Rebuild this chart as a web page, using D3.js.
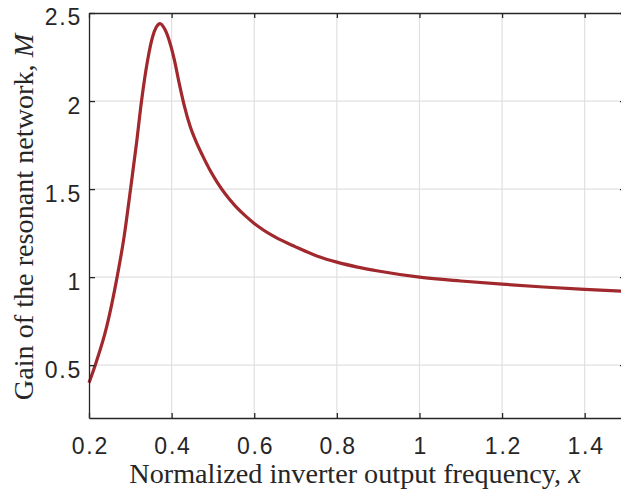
<!DOCTYPE html>
<html>
<head>
<meta charset="utf-8">
<script src="https://cdn.jsdelivr.net/npm/d3@7"></script>
<style>
  body { margin: 0; background: #fff; }
  svg { display: block; overflow: hidden; }
</style>
</head>
<body>
<svg id="chart" width="621" height="497"></svg>
<script>
// values
const freq = [0.20, 0.215, 0.243, 0.268, 0.285, 0.30, 0.315, 0.3266, 0.342, 0.354, 0.363, 0.372, 0.383, 0.396, 0.4065, 0.418, 0.43, 0.445, 0.46, 0.475, 0.493, 0.51, 0.53, 0.555, 0.58, 0.60, 0.65, 0.70, 0.75, 0.80, 0.85, 0.90, 1.00, 1.10, 1.20, 1.30, 1.40, 1.50];
const gain = [0.40, 0.50, 0.72, 1.00, 1.23, 1.49, 1.76, 1.99, 2.233, 2.365, 2.42, 2.44, 2.41, 2.33, 2.235, 2.105, 1.98, 1.855, 1.765, 1.69, 1.607, 1.54, 1.472, 1.402, 1.345, 1.305, 1.228, 1.172, 1.122, 1.085, 1.057, 1.035, 1.00, 0.978, 0.960, 0.944, 0.930, 0.919];
const xTicks = [0.2, 0.4, 0.6, 0.8, 1, 1.2, 1.4];
const yTicks = [0.5, 1, 1.5, 2, 2.5];

const margin = { left: 89, top: 13, right: 626, bottom: 418 };

const svg = d3.select('#chart');

const x = d3.scaleLinear().domain([0.2, 1.5]).range([margin.left, margin.right]);
const y = d3.scaleLinear().domain([0.2, 2.5]).range([margin.bottom, margin.top]);

const axisColor = '#262626';
const gridColor = '#e0e0e0';

// grid
svg.append('g')
  .selectAll('line')
  .data(xTicks.slice(1))
  .join('line')
    .attr('x1', d => x(d)).attr('x2', d => x(d))
    .attr('y1', margin.top).attr('y2', margin.bottom)
    .attr('stroke', gridColor).attr('stroke-width', 1.2);

svg.append('g')
  .selectAll('line')
  .data(yTicks.slice(0, -1))
  .join('line')
    .attr('x1', margin.left).attr('x2', margin.right)
    .attr('y1', d => y(d)).attr('y2', d => y(d))
    .attr('stroke', gridColor).attr('stroke-width', 1.2);

// curve
const line = d3.line()
  .x((d, i) => x(freq[i]))
  .y(d => y(d))
  .curve(d3.curveMonotoneX);

svg.append('path')
  .datum(gain)
  .attr('d', line)
  .attr('fill', 'none')
  .attr('stroke', '#a1282c')
  .attr('stroke-width', 3.2)
  .attr('stroke-linejoin', 'round');

// axes (ticks inward, box on)
const tickFont = '"Liberation Sans", Arial, sans-serif';

const xAxis = svg.append('g')
  .attr('transform', `translate(0,${margin.bottom})`)
  .call(d3.axisBottom(x).tickValues(xTicks).tickSizeInner(-5).tickSizeOuter(0).tickPadding(20).tickFormat(d3.format('')));

const yAxis = svg.append('g')
  .attr('transform', `translate(${margin.left},0)`)
  .call(d3.axisLeft(y).tickValues(yTicks).tickSizeInner(-6).tickSizeOuter(0).tickPadding(7).tickFormat(d3.format('')));

svg.append('g')
  .attr('transform', `translate(0,${margin.top})`)
  .call(d3.axisTop(x).tickValues(xTicks).tickSizeInner(-5).tickSizeOuter(0).tickFormat(''));

svg.append('g')
  .attr('transform', `translate(${margin.right},0)`)
  .call(d3.axisRight(y).tickValues(yTicks).tickSizeInner(-6).tickSizeOuter(0).tickFormat(''));

svg.selectAll('.domain, .tick line')
  .attr('stroke', axisColor)
  .attr('stroke-width', 1.3);

svg.selectAll('.tick text')
  .attr('fill', axisColor)
  .style('font-family', tickFont)
  .style('font-size', '23px')
  .style('letter-spacing', '1.8px');

xAxis.selectAll('.tick text').attr('dx', '0.9px');
yAxis.selectAll('.tick text').attr('dy', '0.52em');

// labels
const labelFont = '"Liberation Serif", "Times New Roman", serif';

const xl = svg.append('text')
  .attr('x', 355)
  .attr('y', 483)
  .attr('text-anchor', 'middle')
  .attr('fill', axisColor)
  .style('font-family', labelFont)
  .style('font-size', '28.2px');
xl.append('tspan').text('Normalized inverter output frequency, ');
xl.append('tspan').style('font-style', 'italic').text('x');

const yl = svg.append('text')
  .attr('transform', `translate(33,217) rotate(-90)`)
  .attr('text-anchor', 'middle')
  .attr('fill', axisColor)
  .style('font-family', labelFont)
  .style('font-size', '28.2px');
yl.append('tspan').text('Gain of the resonant network, ');
yl.append('tspan').style('font-style', 'italic').text('M');
</script>
</body>
</html>
